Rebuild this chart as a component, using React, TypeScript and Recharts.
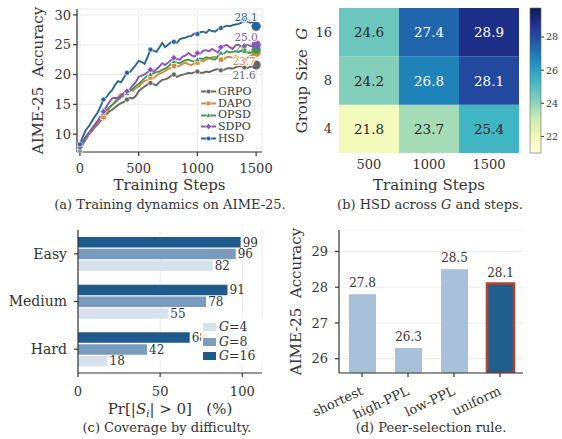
import React from "react";
import {
  Bar,
  BarChart,
  CartesianGrid,
  Cell,
  LabelList,
  Legend,
  Line,
  LineChart,
  XAxis,
  YAxis,
} from "recharts";

const FONT = "'DejaVu Serif', serif";
const INK = "#333333";
const GRID = "#ebebeb";

// (a) training dynamics on AIME-25
const steps = [
  0, 25, 50, 75, 100, 125, 150, 175, 200, 225, 250, 275, 300, 325, 350, 375, 400, 425, 450, 475,
  500, 525, 550, 575, 600, 625, 650, 675, 700, 725, 750, 775, 800, 825, 850, 875, 900, 925, 950, 975,
  1000, 1025, 1050, 1075, 1100, 1125, 1150, 1175, 1200, 1225, 1250, 1275, 1300, 1325, 1350, 1375,
  1400, 1425, 1450, 1475, 1500,
];
const grpo = [
  7.9, 8.6, 9.3, 9.9, 10.5, 11.1, 11.6, 12.2, 12.7, 13.3, 13.8, 14.1, 14.5, 14.9, 15.2, 15.4, 15.8, 16.1, 16.0, 16.4,
  17.2, 17.6, 18.0, 18.3, 18.6, 18.4, 18.2, 18.7, 19.1, 19.2, 19.4, 19.8, 20.0, 19.6, 19.8, 20.0, 20.1, 20.3, 20.2, 20.4,
  20.5, 20.3, 20.3, 20.5, 20.4, 20.6, 20.8, 20.9, 20.7, 20.8, 21.0, 21.1, 21.0, 21.2, 21.4, 21.4,
  21.2, 21.1, 21.3, 21.5, 21.6,
];
const dapo = [
  7.6, 8.4, 9.0, 9.9, 10.7, 11.3, 11.9, 12.5, 12.9, 13.6, 14.3, 14.9, 15.5, 16.2, 16.8, 16.6, 17.0, 17.4, 17.3, 17.7,
  18.0, 18.5, 18.9, 19.1, 19.5, 19.4, 19.8, 20.1, 20.3, 20.6, 20.9, 21.1, 21.4, 21.3, 21.5, 21.8, 22.0, 21.7, 21.6, 21.9,
  22.0, 22.3, 22.2, 22.5, 22.7, 22.9, 23.0, 22.7, 22.5, 22.6, 22.9, 23.0, 22.8, 23.1, 22.9, 22.7,
  22.5, 22.8, 23.1, 23.4, 23.7,
];
const opsd = [
  7.3, 8.3, 9.3, 10.1, 10.9, 11.6, 12.2, 12.9, 13.5, 14.0, 14.5, 14.9, 15.3, 15.8, 16.2, 16.5, 16.8, 17.2, 17.6, 18.1,
  18.4, 18.9, 19.4, 19.8, 20.0, 20.2, 20.4, 20.5, 20.8, 21.0, 21.3, 21.8, 22.2, 22.0, 21.9, 22.2, 22.4, 22.5, 22.3, 22.2,
  22.5, 22.7, 22.6, 22.9, 22.8, 22.6, 22.5, 23.1, 23.6, 23.5, 23.9, 23.7, 23.8, 23.9, 23.8, 24.0,
  23.9, 23.7, 23.6, 23.9, 24.2,
];
const sdpo = [
  7.8, 8.8, 9.6, 10.2, 10.8, 11.4, 12.2, 13.0, 13.8, 14.6, 15.4, 16.0, 16.1, 16.0, 16.5, 16.9, 17.2, 17.5, 18.2, 18.7,
  19.6, 19.8, 20.0, 20.4, 20.8, 20.5, 20.9, 21.3, 21.9, 21.6, 22.0, 22.4, 22.8, 22.6, 22.5, 23.0, 23.2, 23.6, 23.2, 23.0,
  23.6, 23.5, 24.0, 24.1, 23.9, 24.3, 24.0, 23.7, 24.6, 24.8, 25.0, 24.6, 24.3, 24.9, 25.0, 24.7,
  24.8, 25.0, 24.8, 24.7, 25.0,
];
const hsd = [
  8.3, 9.6, 10.7, 11.3, 12.1, 12.9, 13.6, 14.6, 15.8, 16.2, 16.9, 17.4, 18.3, 18.9, 18.7, 19.5, 20.3, 20.4, 21.0, 21.6,
  22.3, 22.1, 21.8, 22.9, 24.2, 24.0, 23.8, 24.5, 25.3, 24.6, 25.0, 25.4, 25.5, 25.3, 25.9, 26.1, 26.2, 26.4, 26.5, 26.9,
  26.8, 27.1, 27.2, 27.0, 27.5, 27.3, 27.2, 27.6, 27.8, 28.0, 28.2, 28.1, 28.3, 28.4, 28.5, 28.7,
  29.1, 28.9, 28.7, 28.9, 28.1,
];
const methodNames = ["GRPO", "DAPO", "OPSD", "SDPO", "HSD"];
const methodValues = [grpo, dapo, opsd, sdpo, hsd];

// (b) HSD across G and steps
const hmSteps = ["500", "1000", "1500"];
const hmGroups = ["4", "8", "16"];
const hmG4 = [21.8, 23.7, 25.4];
const hmG8 = [24.2, 26.8, 28.1];
const hmG16 = [24.6, 27.4, 28.9];
const cbTicks = [22, 24, 26, 28];

// (c) coverage by difficulty
const difficulties = ["Easy", "Medium", "Hard"];
const covG4 = [82, 55, 18];
const covG8 = [96, 78, 42];
const covG16 = [99, 91, 68];

// (d) peer-selection rule
const rules = ["shortest", "high-PPL", "low-PPL", "uniform"];
const ruleAcc = [27.8, 26.3, 28.5, 28.1];

const styles: Record<string, { color: string; shape: string; dx: number; dy: number }> = {
  GRPO: { color: "#666666", shape: "circle", dx: -12, dy: 10 },
  DAPO: { color: "#dd8a3e", shape: "square", dx: -12, dy: 9 },
  OPSD: { color: "#3f9a52", shape: "triangle", dx: -10, dy: -2 },
  SDPO: { color: "#8d52bf", shape: "diamond", dx: -10, dy: -8 },
  HSD: { color: "#2a6496", shape: "circle", dx: -10, dy: -9 },
};

const lineData = steps.map((step, i) => {
  const row: Record<string, number> = { step };
  methodNames.forEach((m, j) => (row[m] = methodValues[j][i]));
  return row;
});

const hmData = hmSteps.map((step, i) => ({
  step,
  g4: 1,
  g8: 1,
  g16: 1,
  v4: hmG4[i],
  v8: hmG8[i],
  v16: hmG16[i],
}));

const covData = difficulties.map((name, i) => ({
  name,
  g4: covG4[i],
  g8: covG8[i],
  g16: covG16[i],
}));

const ruleData = rules.map((name, i) => ({ name, acc: ruleAcc[i] }));

// YlGnBu colormap
const ylgnbu = ["#ffffd9", "#edf8b1", "#c7e9b4", "#7fcdbb", "#41b6c4", "#1d91c0", "#225ea8", "#253494", "#081d58"];
const VMIN = 21;
const VMAX = 29.75;

function hexToRgb(h: string) {
  return [parseInt(h.slice(1, 3), 16), parseInt(h.slice(3, 5), 16), parseInt(h.slice(5, 7), 16)];
}

function heatColor(v: number) {
  const t = Math.max(0, Math.min(1, (v - VMIN) / (VMAX - VMIN))) * (ylgnbu.length - 1);
  const i = Math.min(ylgnbu.length - 2, Math.floor(t));
  const f = t - i;
  const a = hexToRgb(ylgnbu[i]);
  const b = hexToRgb(ylgnbu[i + 1]);
  const c = a.map((x, k) => Math.round(x + (b[k] - x) * f));
  return `rgb(${c[0]},${c[1]},${c[2]})`;
}

function markerShape(shape: string, cx: number, cy: number, color: string, r: number) {
  const sw = 0.6;
  if (shape === "square")
    return <rect x={cx - r} y={cy - r} width={2 * r} height={2 * r} fill={color} stroke="#fff" strokeWidth={sw} />;
  if (shape === "triangle")
    return (
      <polygon
        points={`${cx},${cy - r * 1.2} ${cx - r * 1.15},${cy + r * 0.8} ${cx + r * 1.15},${cy + r * 0.8}`}
        fill={color}
        stroke="#fff"
        strokeWidth={sw}
      />
    );
  if (shape === "diamond")
    return (
      <polygon
        points={`${cx},${cy - r * 1.3} ${cx + r * 1.3},${cy} ${cx},${cy + r * 1.3} ${cx - r * 1.3},${cy}`}
        fill={color}
        stroke="#fff"
        strokeWidth={sw}
      />
    );
  return <circle cx={cx} cy={cy} r={r} fill={color} stroke="#fff" strokeWidth={sw} />;
}

function makeDot(name: string) {
  const { color, shape } = styles[name];
  return (p: any) => {
    const { cx, cy, payload, index } = p;
    const key = `${name}-dot-${index}`;
    if (cx == null || cy == null) return <g key={key} />;
    if (payload.step === 1500) return <circle key={key} cx={cx} cy={cy} r={4.6} fill={color} />;
    if (payload.step % 200 !== 0) return <g key={key} />;
    return <g key={key}>{markerShape(shape, cx, cy, color, 2.5)}</g>;
  };
}

function makeEndLabel(name: string) {
  const { color, dx, dy } = styles[name];
  return (p: any) => {
    const { x, y, index, value } = p;
    if (index !== steps.length - 1) return <g key={`${name}-lab-${index}`} />;
    return (
      <text
        key={`${name}-lab-${index}`}
        x={x + dx}
        y={y + dy}
        textAnchor="middle"
        dominantBaseline="central"
        fontSize={10.5}
        fill={color}
        style={{ paintOrder: "stroke" }}
        stroke="#fff"
        strokeWidth={name === "OPSD" ? 0 : 2}
      >
        {Number(value).toFixed(1)}
      </text>
    );
  };
}

const yTitle = (content: React.ReactNode, x: number) => (props: any) => {
  const vb = props.viewBox || { y: 0, height: 0 };
  const cy = vb.y + vb.height / 2;
  return (
    <text x={x} y={cy} transform={`rotate(-90 ${x} ${cy})`} textAnchor="middle" dominantBaseline="central" fontSize={15} fill={INK}>
      {content}
    </text>
  );
};

const xTitle = (content: React.ReactNode, y: number) => (props: any) => {
  const vb = props.viewBox || { x: 0, width: 0 };
  const cx = vb.x + vb.width / 2;
  return (
    <text x={cx} y={y} textAnchor="middle" fontSize={15} fill={INK}>
      {content}
    </text>
  );
};

function LineLegend() {
  return (
    <div style={{ background: "rgba(255,255,255,0.85)", padding: "1px 2px", lineHeight: "11.7px", fontSize: 11, color: INK }}>
      {methodNames.map((m) => (
        <div key={m} style={{ display: "flex", alignItems: "center" }}>
          <svg width={17} height={11}>
            <line x1={1} y1={5.5} x2={16} y2={5.5} stroke={styles[m].color} strokeWidth={2} />
            {markerShape(styles[m].shape, 8.5, 5.5, styles[m].color, 2.3)}
          </svg>
          <span style={{ marginLeft: 1 }}>{m}</span>
        </div>
      ))}
    </div>
  );
}

const covColors = { g4: "#d7e2ed", g8: "#7b9bbd", g16: "#1f5a8c" };

function CovLegend() {
  const items: [string, string][] = [
    ["4", covColors.g4],
    ["8", covColors.g8],
    ["16", covColors.g16],
  ];
  return (
    <div style={{ background: "rgba(255,255,255,0.85)", padding: "1px 2px", fontSize: 12.5, color: INK, lineHeight: "14.5px" }}>
      {items.map(([g, c]) => (
        <div key={g} style={{ display: "flex", alignItems: "center" }}>
          <span style={{ display: "inline-block", width: 13, height: 8, background: c, marginRight: 3 }} />
          <span>
            <i>G</i>={g}
          </span>
        </div>
      ))}
    </div>
  );
}

const cellLabel = (p: any) => {
  const { x, y, width, height, value } = p;
  return (
    <text
      x={x + width / 2}
      y={y + height / 2}
      textAnchor="middle"
      dominantBaseline="central"
      fontSize={13.5}
      fill={value > 26.5 ? "#ffffff" : "#262626"}
    >
      {Number(value).toFixed(1)}
    </text>
  );
};

const RuleTick = (p: any) => {
  const { x, y, payload } = p;
  const tx = x + 2;
  const ty = y + 15;
  return (
    <text x={tx} y={ty} textAnchor="end" fontSize={13} fill={INK} transform={`rotate(-25 ${tx} ${ty})`}>
      {payload.value}
    </text>
  );
};

const captionStyle: React.CSSProperties = {
  position: "absolute",
  fontSize: 13,
  color: INK,
  whiteSpace: "nowrap",
  transform: "translate(-50%, -50%)",
};

export default function App() {
  const tick = { fill: INK, fontSize: 13 };
  return (
    <div
      style={{
        position: "absolute",
        left: 0,
        top: 0,
        width: 562,
        height: 439,
        background: "#ffffff",
        fontFamily: FONT,
        overflow: "hidden",
      }}
    >
      {/* (a) */}
      <div style={{ position: "absolute", left: 0, top: 0 }}>
        <LineChart width={280} height={200} data={lineData} margin={{ top: 9, right: 18, bottom: 0, left: 0 }}>
          <CartesianGrid stroke={GRID} strokeWidth={1} />
          <XAxis
            dataKey="step"
            type="number"
            domain={[-25, 1550]}
            ticks={[0, 500, 1000, 1500]}
            height={48}
            tick={tick}
            tickSize={4}
            tickMargin={8}
            stroke={INK}
            strokeWidth={1.2}
            label={{ content: xTitle("Training Steps", 190) }}
          />
          <YAxis
            type="number"
            domain={[7, 31]}
            ticks={[10, 15, 20, 25, 30]}
            width={77}
            tick={tick}
            tickSize={4}
            tickMargin={2}
            stroke={INK}
            strokeWidth={1.2}
            label={{ content: yTitle("AIME-25\u00a0\u00a0Accuracy", 38) }}
          />
          {methodNames.map((m) => (
            <Line
              key={m}
              dataKey={m}
              type="linear"
              stroke={styles[m].color}
              strokeWidth={1.9}
              dot={makeDot(m)}
              activeDot={false}
              label={makeEndLabel(m)}
              isAnimationActive={false}
            />
          ))}
          <Legend
            layout="vertical"
            align="center"
            verticalAlign="middle"
            content={() => <LineLegend />}
            wrapperStyle={{ left: 198, top: 85, width: 62 }}
          />
        </LineChart>
      </div>

      {/* (b) heatmap */}
      <div style={{ position: "absolute", left: 280, top: 0 }}>
        <BarChart width={240} height={200} data={hmData} barCategoryGap={0} margin={{ top: 8, right: 1, bottom: 0, left: 0 }}>
          <XAxis
            dataKey="step"
            height={47}
            tick={tick}
            tickLine={false}
            axisLine={false}
            tickSize={0}
            tickMargin={7}
            label={{ content: xTitle("Training Steps", 190) }}
          />
          <YAxis
            type="number"
            domain={[0, 3]}
            ticks={[0.5, 1.5, 2.5]}
            tickFormatter={(v: number) => hmGroups[Math.floor(v)]}
            width={59}
            tick={tick}
            tickLine={false}
            axisLine={false}
            tickSize={0}
            tickMargin={7}
            label={{
              content: yTitle(
                <>
                  Group Size{"\u00a0\u00a0"}
                  <tspan fontStyle="italic">G</tspan>
                </>,
                21.5
              ),
            }}
          />
          <Bar dataKey="g4" stackId="h" isAnimationActive={false}>
            {hmG4.map((v, i) => (
              <Cell key={i} fill={heatColor(v)} />
            ))}
            <LabelList dataKey="v4" content={cellLabel} />
          </Bar>
          <Bar dataKey="g8" stackId="h" isAnimationActive={false}>
            {hmG8.map((v, i) => (
              <Cell key={i} fill={heatColor(v)} />
            ))}
            <LabelList dataKey="v8" content={cellLabel} />
          </Bar>
          <Bar dataKey="g16" stackId="h" isAnimationActive={false}>
            {hmG16.map((v, i) => (
              <Cell key={i} fill={heatColor(v)} />
            ))}
            <LabelList dataKey="v16" content={cellLabel} />
          </Bar>
        </BarChart>
      </div>

      {/* (b) colorbar */}
      <div style={{ position: "absolute", left: 525, top: 0 }}>
        <BarChart
          width={50}
          height={200}
          data={[{ name: "cb", range: [VMIN, VMAX] }]}
          barCategoryGap={0}
          margin={{ top: 8, right: 0, bottom: 47, left: 5 }}
        >
          <defs>
            <linearGradient id="ylgnbu" x1="0" y1="1" x2="0" y2="0">
              {ylgnbu.map((c, i) => (
                <stop key={c} offset={`${(i / (ylgnbu.length - 1)) * 100}%`} stopColor={c} />
              ))}
            </linearGradient>
          </defs>
          <XAxis dataKey="name" hide />
          <YAxis
            orientation="right"
            type="number"
            domain={[VMIN, VMAX]}
            ticks={cbTicks}
            width={34}
            tick={{ fill: INK, fontSize: 9.5 }}
            tickSize={3}
            tickMargin={2}
            axisLine={false}
            stroke={INK}
          />
          <Bar dataKey="range" fill="url(#ylgnbu)" stroke="#666" strokeWidth={0.6} isAnimationActive={false} />
        </BarChart>
      </div>

      {/* (c) */}
      <div style={{ position: "absolute", left: 0, top: 215 }}>
        <BarChart
          width={280}
          height={224}
          data={covData}
          layout="vertical"
          barSize={10.5}
          barGap={1.3}
          margin={{ top: 15, right: 18, bottom: 0, left: 0 }}
        >
          <CartesianGrid stroke={GRID} horizontal={false} />
          <XAxis
            type="number"
            domain={[0, 112]}
            ticks={[0, 50, 100]}
            height={66}
            tick={tick}
            tickSize={4}
            tickMargin={10}
            stroke={INK}
            strokeWidth={1.2}
            label={{
              content: xTitle(
                <>
                  Pr[|<tspan fontStyle="italic">S</tspan>
                  <tspan fontStyle="italic" fontSize={10} dy={3}>
                    i
                  </tspan>
                  <tspan dy={-3}>| &gt; 0]{"\u00a0\u00a0\u00a0"}(%)</tspan>
                </>,
                199
              ),
            }}
          />
          <YAxis
            type="category"
            dataKey="name"
            width={78}
            tick={{ fill: INK, fontSize: 14 }}
            tickSize={4}
            tickMargin={7}
            stroke={INK}
            strokeWidth={1.2}
          />
          <Bar dataKey="g16" fill={covColors.g16} isAnimationActive={false}>
            <LabelList dataKey="g16" position="right" offset={2} fill={INK} fontSize={12} />
          </Bar>
          <Bar dataKey="g8" fill={covColors.g8} isAnimationActive={false}>
            <LabelList dataKey="g8" position="right" offset={2} fill={INK} fontSize={12} />
          </Bar>
          <Bar dataKey="g4" fill={covColors.g4} isAnimationActive={false}>
            <LabelList dataKey="g4" position="right" offset={2} fill={INK} fontSize={12} />
          </Bar>
          <Legend
            layout="vertical"
            align="center"
            verticalAlign="middle"
            content={() => <CovLegend />}
            wrapperStyle={{ left: 201, top: 104, width: 62 }}
          />
        </BarChart>
      </div>

      {/* (d) */}
      <div style={{ position: "absolute", left: 280, top: 215 }}>
        <BarChart width={282} height={224} data={ruleData} barSize={27} margin={{ top: 15, right: 39, bottom: 0, left: 0 }}>
          <CartesianGrid stroke={GRID} vertical={false} />
          <XAxis dataKey="name" height={66} tick={<RuleTick />} tickSize={4} stroke={INK} strokeWidth={1.2} interval={0} />
          <YAxis
            type="number"
            domain={[25.6, 29.6]}
            ticks={[26, 27, 28, 29]}
            allowDataOverflow
            width={59}
            tick={tick}
            tickSize={4}
            tickMargin={7}
            stroke={INK}
            strokeWidth={1.2}
            label={{ content: yTitle("AIME-25\u00a0\u00a0Accuracy", 16) }}
          />
          <Bar dataKey="acc" isAnimationActive={false}>
            {ruleAcc.map((_, i) => (
              <Cell
                key={i}
                fill={i === 3 ? "#1f5e8c" : "#a8c0d8"}
                stroke={i === 3 ? "#b0432c" : "none"}
                strokeWidth={i === 3 ? 2.6 : 0}
              />
            ))}
            <LabelList dataKey="acc" position="top" offset={7} fill={INK} fontSize={12} formatter={(v: any) => Number(v).toFixed(1)} />
          </Bar>
        </BarChart>
      </div>

      {/* captions */}
      <div style={{ ...captionStyle, left: 170, top: 204 }}>(a) Training dynamics on AIME-25.</div>
      <div style={{ ...captionStyle, left: 430, top: 204 }}>
        (b) HSD across <i>G</i> and steps.
      </div>
      <div style={{ ...captionStyle, left: 167, top: 427 }}>(c) Coverage by difficulty.</div>
      <div style={{ ...captionStyle, left: 431, top: 427 }}>(d) Peer-selection rule.</div>
    </div>
  );
}
